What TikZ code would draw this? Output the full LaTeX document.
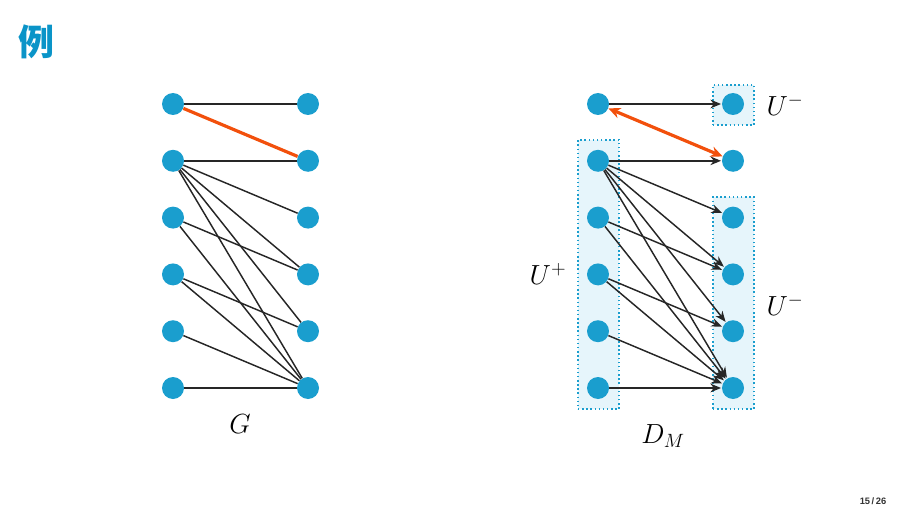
\documentclass[tikz,border=0pt]{standalone}
\usepackage{fontspec}
\newfontfamily\cjk{Noto Sans CJK SC}
\newfontfamily\pagefont{Liberation Sans}
\usepackage{tikz}
\usetikzlibrary{arrows.meta, positioning}
\definecolor{vblue}{RGB}{26,158,206}
\definecolor{tblue}{RGB}{10,148,200}
\definecolor{morange}{RGB}{242,80,12}
\definecolor{boxfill}{RGB}{230,245,251}
\tikzstyle{vertex} = [circle, fill=vblue, minimum size=16.5pt, inner sep=0pt]
\tikzstyle{edge} = [draw=black!85, line width=1.1pt]
\tikzstyle{arc} = [edge, -{Stealth[length=8pt, width=6.5pt]}, shorten >=0.5pt]
\tikzstyle{matched} = [draw=morange, line width=2.4pt]
\tikzstyle{part} = [rectangle, draw=vblue, fill=boxfill, dotted, line width=1.1pt]
\tikzstyle{lbl} = [font=\fontsize{19.5}{22}\selectfont]

\begin{document}
\begin{tikzpicture}[x=0.75pt, y=-0.75pt, node distance=42.6pt]
        \useasboundingbox (0,0) rectangle (907,510);
        \node[text=tblue, font=\cjk\bfseries\fontsize{27}{30}\selectfont] (title) at (36,42) {例};
        \node[text=black!80, font=\pagefont\bfseries\fontsize{7}{8}\selectfont] (pagenum) at (873,501) {15\,/\,26};

        % graph G
        \node[vertex] (a1) at (173,104) {};
        \node[vertex, below of=a1] (a2) {};
        \node[vertex, below of=a2] (a3) {};
        \node[vertex, below of=a3] (a4) {};
        \node[vertex, below of=a4] (a5) {};
        \node[vertex, below of=a5] (a6) {};
        \node[vertex] (b1) at (308,104) {};
        \node[vertex, below of=b1] (b2) {};
        \node[vertex, below of=b2] (b3) {};
        \node[vertex, below of=b3] (b4) {};
        \node[vertex, below of=b4] (b5) {};
        \node[vertex, below of=b5] (b6) {};
        \node[lbl] (glabel) at (240,424) {$G$};

        \draw [edge] (a1) -- (b1);
        \draw [matched] (a1) -- (b2);
        \draw [edge] (a2) -- (b2);
        \draw [edge] (a2) -- (b3);
        \draw [edge] (a2) -- (b4);
        \draw [edge] (a2) -- (b5);
        \draw [edge] (a2) -- (b6);
        \draw [edge] (a3) -- (b4);
        \draw [edge] (a3) -- (b6);
        \draw [edge] (a4) -- (b5);
        \draw [edge] (a4) -- (b6);
        \draw [edge] (a5) -- (b6);
        \draw [edge] (a6) -- (b6);

        % digraph D_M
        \node[part, minimum width=30.75pt, minimum height=201.75pt] (uplus) at (598.5,274.5) {};
        \node[part, minimum width=30.75pt, minimum height=30pt] (uminustop) at (733.5,105) {};
        \node[part, minimum width=30.75pt, minimum height=159pt] (uminus) at (733.5,303) {};

        \node[vertex] (c1) at (598,104) {};
        \node[vertex, below of=c1] (c2) {};
        \node[vertex, below of=c2] (c3) {};
        \node[vertex, below of=c3] (c4) {};
        \node[vertex, below of=c4] (c5) {};
        \node[vertex, below of=c5] (c6) {};
        \node[vertex] (d1) at (733,104) {};
        \node[vertex, below of=d1] (d2) {};
        \node[vertex, below of=d2] (d3) {};
        \node[vertex, below of=d3] (d4) {};
        \node[vertex, below of=d4] (d5) {};
        \node[vertex, below of=d5] (d6) {};

        \node[lbl] (uplabel) at (548,274) {$U^+$};
        \node[lbl] (umlabeltop) at (785,105) {$U^-$};
        \node[lbl] (umlabel) at (785,305) {$U^-$};
        \node[lbl] (dlabel) at (663,436) {$D_M$};

        \draw [arc] (c1) -- (d1);
        \draw [matched, {Stealth[length=9pt, width=8pt]}-{Stealth[length=9pt, width=8pt]}] (c1) -- (d2);
        \draw [arc] (c2) -- (d2);
        \draw [arc] (c2) -- (d3);
        \draw [arc] (c2) -- (d4);
        \draw [arc] (c2) -- (d5);
        \draw [arc] (c2) -- (d6);
        \draw [arc] (c3) -- (d4);
        \draw [arc] (c3) -- (d6);
        \draw [arc] (c4) -- (d5);
        \draw [arc] (c4) -- (d6);
        \draw [arc] (c5) -- (d6);
        \draw [arc] (c6) -- (d6);
    \end{tikzpicture}
\end{document}
